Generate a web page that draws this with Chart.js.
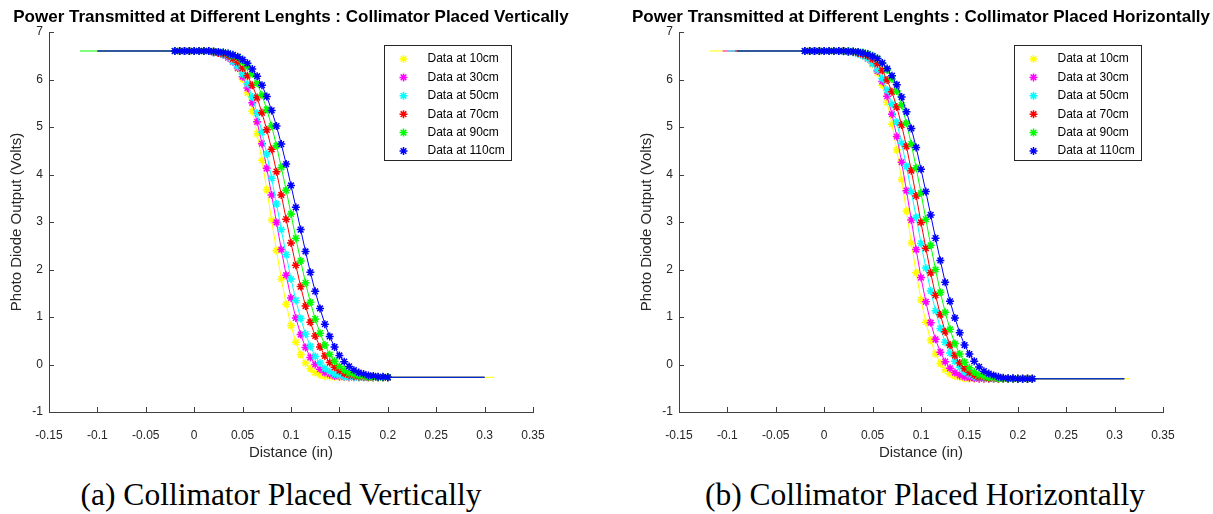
<!DOCTYPE html>
<html>
<head>
<meta charset="utf-8">
<script src="https://cdn.jsdelivr.net/npm/chart.js@4.4.1/dist/chart.umd.min.js"></script>
<style>
  body { margin: 0; background: #fff; overflow: hidden; }
  #page { position: relative; width: 1213px; height: 514px; overflow: hidden; background: #fff; }
  canvas { position: absolute; top: 0; }
  #chartV { left: 0; }
  #chartH { left: 630px; }
  .caption { position: absolute; top: 480px; font-family: "Liberation Serif", serif; font-size: 31.5px; line-height: 30px; color: #000; white-space: nowrap; transform: translateX(-50%); }
</style>
</head>
<body>
<div id="page">
  <canvas id="chartV" width="600" height="470"></canvas>
  <canvas id="chartH" width="583" height="470"></canvas>
  <div class="caption" style="left:281px">(a) Collimator Placed Vertically</div>
  <div class="caption" style="left:925px">(b) Collimator Placed Horizontally</div>
</div>
<script>
// ---- data ----
const seriesLabels = ['Data at 10cm', 'Data at 30cm', 'Data at 50cm', 'Data at 70cm', 'Data at 90cm', 'Data at 110cm'];
const seriesColors = ['#ffff00', '#ff00ff', '#00ffff', '#ff0000', '#00ff00', '#0000ff'];

const xTickValues = [-0.15, -0.1, -0.05, 0, 0.05, 0.1, 0.15, 0.2, 0.25, 0.3, 0.35];
const xTickLabels = ['-0.15', '-0.1', '-0.05', '0', '0.05', '0.1', '0.15', '0.2', '0.25', '0.3', '0.35'];
const yTickValues = [-1, 0, 1, 2, 3, 4, 5, 6, 7];

// (a) collimator placed vertically
const distanceV = [-0.02, -0.015, -0.01, -0.005, 0, 0.005, 0.01, 0.015, 0.02, 0.025, 0.03, 0.035, 0.04, 0.045, 0.05, 0.055, 0.06, 0.065, 0.07, 0.075, 0.08, 0.085, 0.09, 0.095, 0.1, 0.105, 0.11, 0.115, 0.12, 0.125, 0.13, 0.135, 0.14, 0.145, 0.15, 0.155, 0.16, 0.165, 0.17, 0.175, 0.18, 0.185, 0.19, 0.195, 0.2];
const v10 = [6.6, 6.6, 6.6, 6.6, 6.6, 6.6, 6.6, 6.6, 6.58, 6.56, 6.53, 6.47, 6.38, 6.23, 6.01, 5.72, 5.33, 4.86, 4.30, 3.68, 3.04, 2.40, 1.80, 1.27, 0.82, 0.47, 0.21, 0.03, -0.09, -0.17, -0.22, -0.24, -0.26, -0.26, -0.27, -0.27, -0.27, -0.27, -0.27, -0.27, -0.27, -0.27, -0.27, -0.27, -0.27];
const v30 = [6.6, 6.6, 6.6, 6.6, 6.6, 6.6, 6.6, 6.6, 6.57, 6.56, 6.52, 6.46, 6.37, 6.24, 6.06, 5.82, 5.51, 5.11, 4.65, 4.13, 3.57, 2.99, 2.42, 1.88, 1.40, 0.98, 0.63, 0.36, 0.15, 0.00, -0.10, -0.17, -0.21, -0.24, -0.25, -0.26, -0.27, -0.27, -0.27, -0.27, -0.27, -0.27, -0.27, -0.27, -0.27];
const v50 = [6.6, 6.6, 6.6, 6.6, 6.6, 6.6, 6.6, 6.6, 6.57, 6.56, 6.52, 6.48, 6.38, 6.27, 6.12, 5.91, 5.63, 5.29, 4.89, 4.43, 3.92, 3.38, 2.84, 2.31, 1.80, 1.35, 0.97, 0.64, 0.38, 0.17, 0.03, -0.08, -0.15, -0.20, -0.23, -0.25, -0.26, -0.27, -0.27, -0.27, -0.27, -0.27, -0.27, -0.27, -0.27];
const v70 = [6.6, 6.6, 6.6, 6.6, 6.6, 6.6, 6.6, 6.6, 6.58, 6.56, 6.54, 6.50, 6.44, 6.36, 6.24, 6.08, 5.88, 5.62, 5.30, 4.94, 4.53, 4.06, 3.57, 3.06, 2.56, 2.09, 1.64, 1.23, 0.89, 0.60, 0.37, 0.18, 0.04, -0.06, -0.13, -0.19, -0.22, -0.24, -0.25, -0.26, -0.27, -0.27, -0.27, -0.27, -0.27];
const v90 = [6.6, 6.6, 6.6, 6.6, 6.6, 6.6, 6.6, 6.6, 6.59, 6.58, 6.57, 6.54, 6.51, 6.46, 6.37, 6.26, 6.12, 5.92, 5.67, 5.37, 5.02, 4.61, 4.15, 3.67, 3.17, 2.66, 2.18, 1.72, 1.31, 0.96, 0.66, 0.41, 0.21, 0.07, -0.04, -0.12, -0.18, -0.21, -0.23, -0.25, -0.26, -0.27, -0.27, -0.27, -0.27];
const v110 = [6.6, 6.6, 6.6, 6.6, 6.6, 6.6, 6.6, 6.6, 6.59, 6.58, 6.57, 6.55, 6.52, 6.48, 6.42, 6.34, 6.22, 6.07, 5.88, 5.64, 5.35, 5.02, 4.64, 4.22, 3.77, 3.31, 2.84, 2.38, 1.94, 1.54, 1.18, 0.85, 0.59, 0.37, 0.19, 0.06, -0.04, -0.12, -0.17, -0.20, -0.23, -0.24, -0.26, -0.26, -0.27];
// extent of each fitted curve
const fitStartV = [-0.10, -0.10, -0.10, -0.10, -0.118, -0.10];
const fitEndV = [0.31, 0.30, 0.30, 0.30, 0.30, 0.30];

// (b) collimator placed horizontally
const distanceH = [-0.02, -0.015, -0.01, -0.005, 0, 0.005, 0.01, 0.015, 0.02, 0.025, 0.03, 0.035, 0.04, 0.045, 0.05, 0.055, 0.06, 0.065, 0.07, 0.075, 0.08, 0.085, 0.09, 0.095, 0.1, 0.105, 0.11, 0.115, 0.12, 0.125, 0.13, 0.135, 0.14, 0.145, 0.15, 0.155, 0.16, 0.165, 0.17, 0.175, 0.18, 0.185, 0.19, 0.195, 0.2, 0.205, 0.21, 0.215];
const h10 = [6.6, 6.6, 6.6, 6.6, 6.6, 6.6, 6.6, 6.6, 6.60, 6.59, 6.58, 6.55, 6.51, 6.44, 6.32, 6.14, 5.88, 5.52, 5.06, 4.52, 3.89, 3.23, 2.56, 1.93, 1.36, 0.89, 0.51, 0.22, 0.02, -0.11, -0.20, -0.24, -0.27, -0.29, -0.30, -0.30, -0.30, -0.30, -0.30, -0.30, -0.30, -0.30, -0.30, -0.30, -0.30, -0.30, -0.30, -0.30];
const h30 = [6.6, 6.6, 6.6, 6.6, 6.6, 6.6, 6.6, 6.6, 6.60, 6.59, 6.58, 6.55, 6.51, 6.44, 6.34, 6.18, 5.96, 5.65, 5.27, 4.80, 4.26, 3.66, 3.04, 2.42, 1.83, 1.32, 0.88, 0.53, 0.26, 0.06, -0.08, -0.17, -0.23, -0.26, -0.28, -0.29, -0.30, -0.30, -0.30, -0.30, -0.30, -0.30, -0.30, -0.30, -0.30, -0.30, -0.30, -0.30];
const h50 = [6.6, 6.6, 6.6, 6.6, 6.6, 6.6, 6.6, 6.6, 6.59, 6.58, 6.57, 6.54, 6.50, 6.44, 6.34, 6.20, 6.02, 5.78, 5.48, 5.10, 4.66, 4.17, 3.64, 3.10, 2.55, 2.03, 1.55, 1.13, 0.76, 0.47, 0.24, 0.07, -0.06, -0.15, -0.21, -0.25, -0.27, -0.28, -0.29, -0.30, -0.30, -0.30, -0.30, -0.30, -0.30, -0.30, -0.30, -0.30];
const h70 = [6.6, 6.6, 6.6, 6.6, 6.6, 6.6, 6.6, 6.6, 6.60, 6.59, 6.58, 6.56, 6.53, 6.49, 6.43, 6.33, 6.19, 5.99, 5.74, 5.42, 5.04, 4.59, 4.08, 3.55, 2.99, 2.45, 1.93, 1.46, 1.05, 0.69, 0.41, 0.19, 0.03, -0.08, -0.17, -0.22, -0.26, -0.27, -0.29, -0.29, -0.30, -0.30, -0.30, -0.30, -0.30, -0.30, -0.30, -0.30];
const h90 = [6.6, 6.6, 6.6, 6.6, 6.6, 6.6, 6.6, 6.6, 6.60, 6.60, 6.59, 6.58, 6.57, 6.54, 6.50, 6.44, 6.34, 6.20, 6.01, 5.76, 5.46, 5.08, 4.64, 4.14, 3.61, 3.06, 2.51, 2.00, 1.52, 1.10, 0.74, 0.44, 0.22, 0.05, -0.07, -0.16, -0.22, -0.25, -0.27, -0.28, -0.29, -0.30, -0.30, -0.30, -0.30, -0.30, -0.30, -0.30];
const h110 = [6.6, 6.6, 6.6, 6.6, 6.6, 6.6, 6.6, 6.6, 6.60, 6.59, 6.59, 6.58, 6.56, 6.53, 6.49, 6.44, 6.35, 6.23, 6.08, 5.89, 5.63, 5.32, 4.97, 4.57, 4.11, 3.64, 3.15, 2.66, 2.19, 1.73, 1.33, 0.98, 0.67, 0.41, 0.22, 0.07, -0.05, -0.14, -0.19, -0.23, -0.26, -0.28, -0.29, -0.29, -0.30, -0.30, -0.30, -0.30];
const fitStartH = [-0.118, -0.105, -0.10, -0.092, -0.09, -0.09];
const fitEndH = [0.315, 0.31, 0.31, 0.31, 0.31, 0.31];

// ---- drawing ----
const axisColor = '#404040';
const textColor = '#262626';

function drawStar(ctx, cx, cy, r, color) {
    const d = r * Math.SQRT1_2;
    ctx.strokeStyle = color;
    ctx.lineWidth = 1.5;
    ctx.beginPath();
    ctx.moveTo(cx - r, cy); ctx.lineTo(cx + r, cy);
    ctx.moveTo(cx, cy - r); ctx.lineTo(cx, cy + r);
    ctx.moveTo(cx - d, cy - d); ctx.lineTo(cx + d, cy + d);
    ctx.moveTo(cx - d, cy + d); ctx.lineTo(cx + d, cy - d);
    ctx.stroke();
}

// matlab look: inward ticks, bold title, boxed legend inside the axes
function matlabDecor(titleText) {
    return {
        id: 'matlabDecor',
        afterDraw(chart) {
            const ctx = chart.ctx;
            const a = chart.chartArea;
            const xs = chart.scales.x, ys = chart.scales.y;
            ctx.save();
            ctx.lineWidth = 1;
            ctx.strokeStyle = axisColor;
            ctx.beginPath();
            xs.ticks.forEach(t => {
                const px = Math.round(xs.getPixelForValue(t.value)) + 0.5;
                ctx.moveTo(px, a.bottom);
                ctx.lineTo(px, a.bottom - 5);
            });
            ys.ticks.forEach(t => {
                const py = Math.round(ys.getPixelForValue(t.value)) + 0.5;
                ctx.moveTo(a.left, py);
                ctx.lineTo(a.left + 5, py);
            });
            ctx.stroke();

            ctx.fillStyle = '#000';
            ctx.font = 'bold 17px "Liberation Sans", Arial, sans-serif';
            ctx.textAlign = 'center';
            ctx.textBaseline = 'middle';
            ctx.fillText(titleText, (a.left + a.right) / 2, 17);

            const boxW = 127, boxH = 115;
            const bx = Math.round(a.right - 22 - boxW) + 0.5;
            const by = Math.round(a.top + 13) + 0.5;
            ctx.fillStyle = '#fff';
            ctx.fillRect(bx, by, boxW, boxH);
            ctx.lineWidth = 1;
            ctx.strokeStyle = textColor;
            ctx.strokeRect(bx, by, boxW, boxH);
            ctx.font = '12px "Liberation Sans", Arial, sans-serif';
            ctx.textAlign = 'left';
            seriesLabels.forEach((lab, i) => {
                const ey = by + 13.5 + i * 18.4;
                drawStar(ctx, bx + 19, ey, 4, seriesColors[i]);
                ctx.fillStyle = '#000';
                ctx.fillText(lab, bx + 43, ey);
            });
            ctx.restore();
        }
    };
}

function buildDatasets(xs, seriesList, fitStart, fitEnd) {
    return seriesList.map((ys, i) => {
        const pts = xs.map((x, j) => ({ x: x, y: ys[j] }));
        pts.unshift({ x: fitStart[i], y: ys[0], fit: true });
        pts.push({ x: fitEnd[i], y: ys[ys.length - 1], fit: true });
        return {
            label: seriesLabels[i],
            data: pts,
            showLine: true,
            tension: 0,
            borderColor: seriesColors[i],
            backgroundColor: seriesColors[i],
            borderWidth: 1,
            pointStyle: 'star',
            pointBorderColor: seriesColors[i],
            pointBorderWidth: 1.5,
            pointRadius: c => (c.raw && c.raw.fit) ? 0 : 4,
            order: seriesList.length - i
        };
    });
}

function makeChart(canvasId, titleText, datasets, padRight) {
    const tickFont = { family: '"Liberation Sans", Arial, sans-serif', size: 12 };
    const labelFont = { family: '"Liberation Sans", Arial, sans-serif', size: 15 };
    return new Chart(document.getElementById(canvasId), {
        type: 'scatter',
        data: { datasets: datasets },
        options: {
            responsive: false,
            animation: false,
            events: [],
            layout: { padding: { top: 32, right: padRight, bottom: 0, left: 0 } },
            plugins: { legend: { display: false }, tooltip: { enabled: false } },
            scales: {
                x: {
                    type: 'linear',
                    min: -0.15,
                    max: 0.35,
                    afterFit: s => { s.height = 58; },
                    afterBuildTicks: s => { s.ticks = xTickValues.map(v => ({ value: v })); },
                    ticks: { callback: (v, i) => xTickLabels[i], color: textColor, font: tickFont, padding: 16, maxRotation: 0, autoSkip: false },
                    grid: { display: false, drawTicks: false },
                    border: { display: true, color: axisColor, width: 1 },
                    title: { display: true, text: 'Distance (in)', color: textColor, font: labelFont, padding: { top: 0, bottom: 8 } }
                },
                y: {
                    type: 'linear',
                    min: -1,
                    max: 7,
                    afterFit: s => { s.width = 49; },
                    afterBuildTicks: s => { s.ticks = yTickValues.map(v => ({ value: v })); },
                    ticks: { color: textColor, font: tickFont, padding: 6, autoSkip: false },
                    grid: { display: false, drawTicks: false },
                    border: { display: true, color: axisColor, width: 1 },
                    title: { display: true, text: 'Photo Diode Output (Volts)', color: textColor, font: labelFont, padding: { top: 8, bottom: 0 } }
                }
            }
        },
        plugins: [matlabDecor(titleText)]
    });
}

makeChart('chartV', 'Power Transmitted at Different Lenghts : Collimator Placed Vertically',
    buildDatasets(distanceV, [v10, v30, v50, v70, v90, v110], fitStartV, fitEndV), 67);
makeChart('chartH', 'Power Transmitted at Different Lenghts : Collimator Placed Horizontally',
    buildDatasets(distanceH, [h10, h30, h50, h70, h90, h110], fitStartH, fitEndH), 50);
</script>
</body>
</html>
